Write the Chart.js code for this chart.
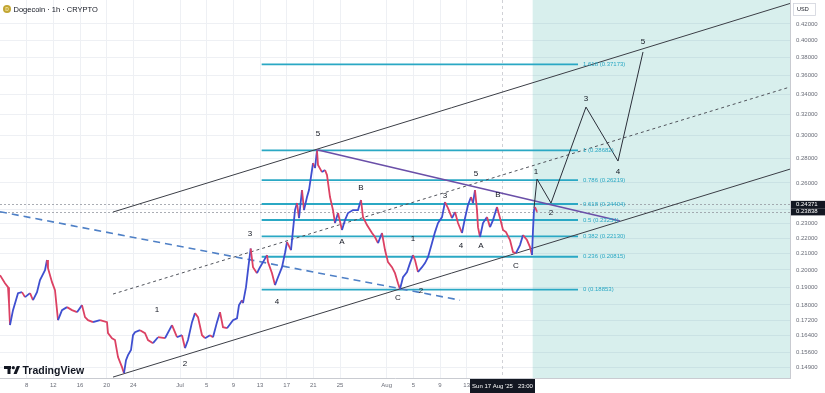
<!DOCTYPE html>
<html lang="en">
<head>
<meta charset="UTF-8">
<title>Dogecoin 1h</title>
<script src="https://cdn.jsdelivr.net/npm/chart.js"></script>
<style>
  body { margin: 0; background: #fff; }
  .wrap { width: 825px; height: 393px; position: relative; }
</style>
</head>
<body>
<div class="wrap"><canvas id="chart"></canvas></div>
<script>
// price path, x = day counted from 1 June (Jul 1 = 31, Aug 1 = 62)
const priceDays = [4.0,4.75,5.2,5.35,5.5,5.95,6.7,7.3,7.75,8.5,8.95,9.55,10.0,10.75,11.05,11.2,11.8,12.25,12.7,13.3,14.05,14.8,15.55,16.3,16.75,17.2,17.95,19.0,20.05,20.2,20.8,21.25,21.7,22.3,22.6,22.9,23.2,23.65,23.95,24.25,25.0,25.75,26.2,26.95,27.7,28.75,29.8,30.55,31.3,31.75,32.2,32.8,33.25,33.7,34.3,34.75,35.5,35.95,36.55,37.0,37.45,38.05,38.95,39.55,39.85,40.3,40.45,40.9,41.2,41.6,41.95,42.55,43.0,43.45,44.05,44.2,44.8,45.25,45.7,46.3,46.75,47.05,47.65,47.95,48.25,48.55,48.85,49.3,49.6,50.05,50.35,50.8,50.95,51.25,51.55,51.7,52.3,52.75,53.05,53.5,53.95,54.25,54.7,55.3,55.75,56.2,56.95,57.7,58.15,58.45,59.05,59.8,60.25,60.7,61.3,61.75,62.2,62.8,63.25,63.7,64.0,64.45,65.05,65.5,65.95,66.25,66.7,67.3,67.75,68.2,68.8,69.25,69.7,70.3,70.75,71.2,71.8,72.25,72.7,73.3,73.75,74.2,74.65,74.95,75.25,75.55,75.7,76.0,76.45,77.05,77.5,77.95,78.55,79.0,79.45,79.9,80.5,80.95,81.4,82.0,82.45,83.05,83.5,83.8,83.95,84.1,84.25,84.55];
const priceValues = [0.1969,0.1922,0.1899,0.1810,0.1694,0.1772,0.1865,0.1871,0.1843,0.1865,0.1826,0.1871,0.1940,0.1999,0.2061,0.2011,0.1928,0.1882,0.1719,0.1772,0.1788,0.1772,0.1761,0.1799,0.1735,0.1719,0.1709,0.1719,0.1709,0.1653,0.1628,0.1619,0.1538,0.1492,0.1465,0.1524,0.1547,0.1571,0.1643,0.1658,0.1668,0.1653,0.1619,0.1604,0.1633,0.1628,0.1694,0.1633,0.1643,0.1580,0.1619,0.1709,0.1756,0.1735,0.1643,0.1628,0.1643,0.1633,0.1709,0.1761,0.1683,0.1678,0.1719,0.1729,0.1799,0.1826,0.1810,0.1899,0.1999,0.2134,0.2017,0.1981,0.2017,0.2048,0.2092,0.2048,0.1981,0.1911,0.1957,0.2017,0.2105,0.2176,0.2124,0.2256,0.2396,0.2447,0.2339,0.2545,0.2396,0.2492,0.2545,0.2704,0.2761,0.2720,0.2868,0.2745,0.2687,0.2704,0.2663,0.2492,0.2396,0.2304,0.2375,0.2256,0.2325,0.2375,0.2396,0.2396,0.2470,0.2346,0.2290,0.2236,0.2209,0.2169,0.2236,0.2124,0.2048,0.2017,0.1981,0.1922,0.1888,0.1957,0.1988,0.2042,0.2092,0.2061,0.1988,0.2017,0.2042,0.2079,0.2169,0.2242,0.2304,0.2346,0.2455,0.2410,0.2339,0.2382,0.2304,0.2236,0.2339,0.2433,0.2492,0.2447,0.2545,0.2396,0.2276,0.2209,0.2304,0.2346,0.2276,0.2325,0.2418,0.2339,0.2256,0.2242,0.2189,0.2111,0.2105,0.2156,0.2222,0.2189,0.2143,0.2092,0.2256,0.2396,0.2418,0.2384];

// axes
const xTickDays = [8,12,16,20,24,31,35,39,43,47,51,55,62,66,70,74];
const xTickLabels = ['8','12','16','20','24','Jul','5','9','13','17','21','25','Aug','5','9','13'];
const yTicks = [0.149,0.156,0.164,0.172,0.18,0.19,0.20,0.21,0.22,0.23,0.24,0.26,0.28,0.30,0.32,0.34,0.36,0.38,0.40,0.42];
const priceMarks = [0.24371, 0.23838];

// channel (start day / end day, prices)
const channelDays = [20.95, 122.5];
const upperChannel = [0.2382, 0.4468];
const midChannel = [0.1860, 0.3473];
const lowerChannel = [0.1448, 0.2711];
const blueTrendDays = [4.0, 73.0];
const blueTrend = [0.2384, 0.1826];
const purpleDays = [51.55, 97.0];
const purpleTrend = [0.2875, 0.2318];

// fibonacci retracement
const fibRatios = ['0', '0.236', '0.382', '0.5', '0.618', '0.786', '1', '1.618'];
const fibPrices = [0.18853, 0.20815, 0.22130, 0.23254, 0.24404, 0.26219, 0.28682, 0.37173];
const fibDays = [43.25, 90.7];

// projected waves
const pathDays = [84.1, 84.55, 86.65, 91.9, 96.7, 100.45];
const pathPrices = [0.2410, 0.2631, 0.2447, 0.3269, 0.2778, 0.3860];
const forecastStartDay = 83.9;
const crosshairDay = 79.3;

// wave labels
const waveText = ['1','2','3','4','5','A','B','C','1','2','3','4','5','A','B','C','1','2','3','4','5'];
const waveDays = [27.55,31.75,41.5,45.55,51.7,55.3,58.15,63.7,65.95,67.15,70.75,73.15,75.4,76.15,78.7,81.4,84.4,86.65,91.9,96.7,100.45];
const wavePrices = [0.1772,0.1506,0.2229,0.1815,0.3014,0.2176,0.2560,0.1837,0.2195,0.1877,0.2499,0.2149,0.2671,0.2149,0.2507,0.2023,0.2687,0.2375,0.3349,0.2687,0.3978];

const FONT = "'Liberation Sans', Arial, sans-serif";
const UP = '#3f4fd0';
const DOWN = '#dc4163';
const FIB = '#2aa8c4';

function pts(days, vals) {
    return days.map((d, i) => ({ x: d, y: vals[i] }));
}

function line(days, vals, color, width, dash) {
    return {
        data: pts(days, vals),
        borderColor: color,
        borderWidth: width,
        borderDash: dash || [],
        pointRadius: 0,
        tension: 0
    };
}

const datasets = [];
datasets.push({
    data: pts(priceDays, priceValues),
    borderWidth: 1.8,
    pointRadius: 0,
    tension: 0,
    borderColor: UP,
    segment: {
        borderColor: ctx => ctx.p1.parsed.y >= ctx.p0.parsed.y ? UP : DOWN
    }
});
datasets.push(line(pathDays, pathPrices, '#2a2e39', 1));
datasets.push(line(purpleDays, purpleTrend, '#6a4fa8', 1.6));
datasets.push(line(channelDays, upperChannel, '#3b3e46', 1));
datasets.push(line(channelDays, midChannel, '#50535b', 1, [3, 3]));
datasets.push(line(channelDays, lowerChannel, '#3b3e46', 1));
datasets.push(line(blueTrendDays, blueTrend, '#4f80c6', 1.6, [7, 5]));
fibPrices.forEach(p => {
    datasets.push(line(fibDays, [p, p], FIB, 1.8));
});

const background = {
    id: 'background',
    beforeDatasetsDraw(chart) {
        const { ctx, chartArea, scales } = chart;
        const x0 = scales.x.getPixelForValue(forecastStartDay);
        ctx.save();
        ctx.fillStyle = 'rgba(38,166,154,0.18)';
        ctx.fillRect(x0, chartArea.top, chartArea.right - x0, chartArea.bottom - chartArea.top);
        // dotted price lines
        ctx.strokeStyle = '#9598a1';
        ctx.lineWidth = 0.8;
        ctx.setLineDash([2, 2]);
        priceMarks.forEach(p => {
            const y = Math.round(scales.y.getPixelForValue(p)) + 0.5;
            ctx.beginPath();
            ctx.moveTo(chartArea.left, y);
            ctx.lineTo(chartArea.right, y);
            ctx.stroke();
        });
        const cx = Math.round(scales.x.getPixelForValue(crosshairDay)) + 0.5;
        ctx.strokeStyle = '#c4c6cc';
        ctx.setLineDash([3, 3]);
        ctx.beginPath();
        ctx.moveTo(cx, chartArea.top);
        ctx.lineTo(cx, chartArea.bottom);
        ctx.stroke();
        ctx.restore();
    }
};

const overlay = {
    id: 'overlay',
    afterDraw(chart) {
        const { ctx, chartArea, scales } = chart;
        ctx.save();

        // price axis labels
        ctx.fillStyle = '#6a6d78';
        ctx.font = '6px ' + FONT;
        ctx.textAlign = 'left';
        ctx.textBaseline = 'middle';
        yTicks.forEach(v => {
            ctx.fillText(v.toFixed(5), chartArea.right + 6, scales.y.getPixelForValue(v));
        });

        // wave labels
        ctx.fillStyle = '#131722';
        ctx.font = '8px ' + FONT;
        ctx.textAlign = 'center';
        waveText.forEach((t, i) => {
            ctx.fillText(t, scales.x.getPixelForValue(waveDays[i]), scales.y.getPixelForValue(wavePrices[i]));
        });

        // fib labels
        ctx.fillStyle = FIB;
        ctx.font = '6px ' + FONT;
        ctx.textAlign = 'left';
        const fx = scales.x.getPixelForValue(fibDays[1]) + 5;
        fibPrices.forEach((p, i) => {
            ctx.fillText(fibRatios[i] + ' (' + p.toFixed(5) + ')', fx, scales.y.getPixelForValue(p));
        });

        // price boxes on the axis
        priceMarks.forEach(p => {
            const y = scales.y.getPixelForValue(p);
            ctx.fillStyle = '#131722';
            ctx.fillRect(chartArea.right + 1, y - 3.6, 34, 7.2);
            ctx.fillStyle = '#ffffff';
            ctx.fillText(p.toFixed(5), chartArea.right + 6, y);
        });

        // USD box
        ctx.strokeStyle = '#d1d4dc';
        ctx.lineWidth = 0.8;
        ctx.fillStyle = '#ffffff';
        ctx.fillRect(chartArea.right + 3, 3, 22, 12);
        ctx.strokeRect(chartArea.right + 3.5, 3.5, 22, 12);
        ctx.fillStyle = '#131722';
        ctx.font = '5.5px ' + FONT;
        ctx.fillText('USD', chartArea.right + 7, 9.5);

        // time tooltip
        const cx = scales.x.getPixelForValue(crosshairDay);
        ctx.fillStyle = '#131722';
        ctx.fillRect(cx - 32, chartArea.bottom + 1, 65, 14);
        ctx.fillStyle = '#ffffff';
        ctx.font = '6px ' + FONT;
        ctx.textAlign = 'center';
        ctx.fillText("Sun 17 Aug '25   23:00", cx + 0.5, chartArea.bottom + 8);

        // title
        ctx.fillStyle = '#c2a633';
        ctx.beginPath();
        ctx.arc(7, 9, 4, 0, Math.PI * 2);
        ctx.fill();
        ctx.fillStyle = '#f3e2a0';
        ctx.font = 'bold 5px ' + FONT;
        ctx.fillText('D', 7, 9.3);
        ctx.textAlign = 'left';
        ctx.fillStyle = '#131722';
        ctx.font = '7.5px ' + FONT;
        ctx.fillText('Dogecoin \u00b7 1h \u00b7 CRYPTO', 13.5, 9.5);

        // TradingView logo
        ctx.fillRect(4, 366, 7, 3);
        ctx.fillRect(7.5, 366, 3, 8);
        ctx.beginPath();
        ctx.arc(13.3, 367.7, 1.6, 0, Math.PI * 2);
        ctx.fill();
        ctx.beginPath();
        ctx.moveTo(13.5, 374);
        ctx.lineTo(16.8, 366);
        ctx.lineTo(20, 366);
        ctx.lineTo(16.7, 374);
        ctx.closePath();
        ctx.fill();
        ctx.font = 'bold 10.5px ' + FONT;
        ctx.textBaseline = 'alphabetic';
        ctx.fillText('TradingView', 22.5, 374);

        ctx.restore();
    }
};

new Chart(document.getElementById('chart'), {
    type: 'line',
    data: { datasets: datasets },
    options: {
        responsive: true,
        maintainAspectRatio: false,
        animation: false,
        layout: { padding: 0 },
        plugins: { legend: { display: false }, tooltip: { enabled: false } },
        scales: {
            x: {
                type: 'linear',
                min: 4,
                max: 122.5,
                afterBuildTicks(axis) { axis.ticks = xTickDays.map(v => ({ value: v })); },
                afterFit(axis) { axis.height = 15; },
                grid: { color: '#eef0f4', drawTicks: false },
                border: { color: '#c9cbd1' },
                ticks: {
                    autoSkip: false,
                    maxRotation: 0,
                    padding: 4,
                    color: '#6a6d78',
                    font: { size: 6, family: FONT },
                    callback: v => xTickLabels[xTickDays.indexOf(v)]
                }
            },
            y: {
                type: 'logarithmic',
                position: 'right',
                min: 0.1444,
                max: 0.4515,
                afterBuildTicks(axis) { axis.ticks = yTicks.map(v => ({ value: v })); },
                afterFit(axis) { axis.width = 35; },
                grid: { color: '#eef0f4', drawTicks: false },
                border: { color: '#c9cbd1' },
                ticks: { display: false }
            }
        }
    },
    plugins: [background, overlay]
});
</script>
</body>
</html>
